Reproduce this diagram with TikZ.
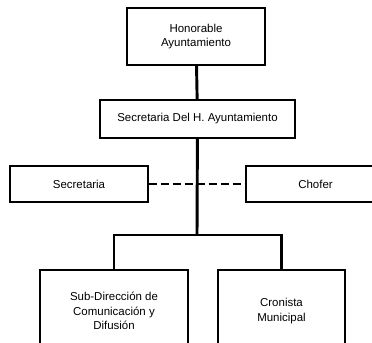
\documentclass[tikz,border=0pt]{standalone}
\usepackage{fontspec}
\setmainfont{Liberation Sans}

\begin{document}
\begin{tikzpicture}[x=0.75pt,y=-0.75pt,
		puesto/.style={draw,line width=0.9pt,align=center,inner sep=0pt,
			font=\fontsize{8.6}{10.8}\selectfont},
		enlace/.style={line width=2.2pt},
		apoyo/.style={line width=1.2pt,dash pattern=on 6pt off 3pt}]
		\useasboundingbox (0,0) rectangle (372,343);
		\clip (0,0) rectangle (372,343);
		
		\node[puesto,minimum width=103.5pt,minimum height=42.75pt] (honorable) at (196,36.5) {Honorable\\Ayuntamiento};
		\node[puesto,minimum width=146.25pt,minimum height=28.5pt] (secretaria) at (197.5,119) {Secretaria Del H. Ayuntamiento};
		
		\node[puesto,minimum width=103.5pt,minimum height=27pt] (secre) at (79,184) {Secretaria};
		\node[puesto,minimum width=104.25pt,minimum height=27pt] (chofer) at (315.5,184) {Chofer};
		
		\node[puesto,minimum width=111pt,minimum height=61.5pt] (subdir) at (114,311) {Sub-Dirección de\\Comunicación y\\Difusión};
		\node[puesto,minimum width=95.25pt,minimum height=61.5pt] (cronista) at (281.5,311) {Cronista\\Municipal};
		
		\coordinate (rama) at (197,235);
		
		\draw[apoyo] (secre.east) -- (chofer.west);
		\draw[enlace] (honorable) -- (secretaria);
		\draw[enlace] (secretaria) -- (rama);
		\draw[enlace] (subdir.north) |- (rama) -| (cronista.north);
	\end{tikzpicture}
\end{document}
